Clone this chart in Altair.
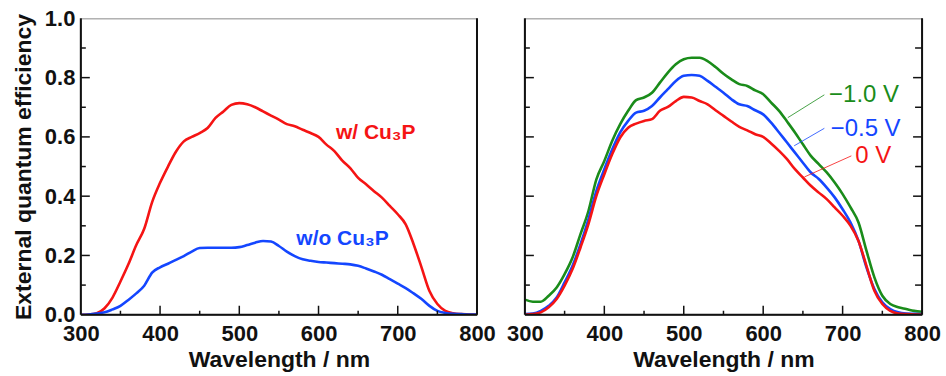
import altair as alt
import pandas as pd

# ---------------- data ----------------
wl = list(range(300, 801, 10))

left_with = [0.0, 0.001, 0.005, 0.022, 0.058, 0.112, 0.17, 0.235, 0.29, 0.38,
             0.445, 0.50, 0.55, 0.585, 0.60, 0.613, 0.63, 0.664, 0.686, 0.708,
             0.714, 0.71, 0.70, 0.686, 0.672, 0.658, 0.643, 0.636, 0.624, 0.613,
             0.60, 0.574, 0.552, 0.52, 0.495, 0.462, 0.44, 0.417, 0.395, 0.367,
             0.339, 0.305, 0.238, 0.16, 0.08, 0.036, 0.013, 0.005, 0.002, 0.001, 0.0]
left_without = [0.0, 0.001, 0.004, 0.008, 0.018, 0.03, 0.05, 0.072, 0.098, 0.142,
                0.16, 0.172, 0.185, 0.198, 0.213, 0.225, 0.226, 0.226, 0.226, 0.226,
                0.228, 0.235, 0.243, 0.249, 0.247, 0.232, 0.213, 0.198, 0.187, 0.182,
                0.178, 0.176, 0.174, 0.172, 0.17, 0.165, 0.156, 0.146, 0.135, 0.12,
                0.105, 0.09, 0.072, 0.053, 0.03, 0.013, 0.006, 0.003, 0.002, 0.001, 0.001]

right_10 = [0.051, 0.044, 0.044, 0.064, 0.092, 0.137, 0.193, 0.272, 0.35, 0.457,
            0.519, 0.587, 0.643, 0.688, 0.724, 0.733, 0.749, 0.783, 0.817, 0.845,
            0.862, 0.867, 0.867, 0.856, 0.836, 0.813, 0.794, 0.778, 0.772, 0.757,
            0.744, 0.716, 0.688, 0.652, 0.615, 0.575, 0.536, 0.508, 0.48, 0.446,
            0.407, 0.362, 0.311, 0.216, 0.126, 0.064, 0.036, 0.025, 0.019, 0.013, 0.01]
right_05 = [0.002, 0.004, 0.013, 0.03, 0.058, 0.109, 0.165, 0.238, 0.322, 0.418,
            0.491, 0.558, 0.615, 0.654, 0.682, 0.688, 0.704, 0.733, 0.761, 0.789,
            0.806, 0.809, 0.806, 0.789, 0.769, 0.749, 0.727, 0.71, 0.704, 0.69,
            0.676, 0.648, 0.615, 0.581, 0.547, 0.513, 0.48, 0.458, 0.429, 0.396,
            0.356, 0.311, 0.249, 0.16, 0.087, 0.042, 0.019, 0.008, 0.004, 0.003, 0.002]
right_00 = [0.0, 0.002, 0.008, 0.025, 0.053, 0.098, 0.154, 0.227, 0.306, 0.401,
            0.474, 0.542, 0.598, 0.631, 0.645, 0.654, 0.66, 0.688, 0.701, 0.721,
            0.735, 0.733, 0.721, 0.71, 0.69, 0.671, 0.652, 0.634, 0.622, 0.609,
            0.60, 0.578, 0.553, 0.525, 0.491, 0.463, 0.435, 0.412, 0.39, 0.362,
            0.334, 0.30, 0.249, 0.165, 0.081, 0.036, 0.013, 0.004, 0.002, 0.001, 0.0]

x_major = [300, 400, 500, 600, 700, 800]
x_minor = [350, 450, 550, 650, 750]
y_major = [0.2, 0.4, 0.6, 0.8]
y_minor = [0.1, 0.3, 0.5, 0.7, 0.9]
y_labels = [0.0, 0.2, 0.4, 0.6, 0.8, 1.0]

left_names = ["w/ Cu₃P", "w/o Cu₃P"]
left_label_x = [622, 572]
left_label_y = [0.613, 0.254]

right_names = ["−1.0 V", "−0.5 V", "0 V"]
right_label_x = [683, 685, 716]
right_label_y = [0.742, 0.628, 0.536]
leader_x1 = [677, 677, 711]
leader_y1 = [0.742, 0.629, 0.536]
leader_x2 = [631, 639, 652]
leader_y2 = [0.665, 0.570, 0.465]

# ---------------- styles ----------------
RED, BLUE, GREEN = "#f51414", "#1446ff", "#1a8c1a"
RED_T, BLUE_T, GREEN_T = "#d40d0d", "#1040c8", "#127a3a"
DARK = "#111111"
FONT = "Liberation Sans"
W_L, W_R, H = 397, 398, 297

xs = alt.Scale(domain=[300, 800], nice=False, zero=False, padding=0)
ys = alt.Scale(domain=[0, 1], nice=False, zero=True, padding=0)


def curves(df, colors, order):
    return alt.Chart(df).mark_line(strokeWidth=2.6, interpolate="monotone", clip=True).encode(
        x=alt.X("wl:Q", scale=xs,
                axis=alt.Axis(values=x_major, title="Wavelength / nm", ticks=False, domain=False,
                              grid=False, labelPadding=9, titlePadding=4, format="d",
                              labelFlush=False, labelOverlap=False)),
        y=alt.Y("v:Q", scale=ys),
        color=alt.Color("s:N", scale=alt.Scale(domain=order, range=colors), legend=None),
        detail="s:N",
    )


def tick_layers(width, both_sides):
    xmaj = pd.DataFrame({"t": x_major[1:-1]})
    xmin = pd.DataFrame({"t": x_minor})
    ymaj = pd.DataFrame({"t": y_major})
    ymin = pd.DataFrame({"t": y_minor})
    layers = [
        alt.Chart(xmaj).mark_rule(color=DARK, strokeWidth=1.5).encode(
            x=alt.X("t:Q", scale=xs), y=alt.value(H), y2=alt.value(H - 9)),
        alt.Chart(xmin).mark_rule(color=DARK, strokeWidth=1.5).encode(
            x=alt.X("t:Q", scale=xs), y=alt.value(H), y2=alt.value(H - 4)),
        alt.Chart(ymaj).mark_rule(color=DARK, strokeWidth=1.5).encode(
            y=alt.Y("t:Q", scale=ys), x=alt.value(0), x2=alt.value(9)),
        alt.Chart(ymin).mark_rule(color=DARK, strokeWidth=1.5).encode(
            y=alt.Y("t:Q", scale=ys), x=alt.value(0), x2=alt.value(5)),
    ]
    if both_sides:
        layers += [
            alt.Chart(ymaj).mark_rule(color=DARK, strokeWidth=1.5).encode(
                y=alt.Y("t:Q", scale=ys), x=alt.value(width), x2=alt.value(width - 9)),
            alt.Chart(ymin).mark_rule(color=DARK, strokeWidth=1.5).encode(
                y=alt.Y("t:Q", scale=ys), x=alt.value(width), x2=alt.value(width - 7)),
        ]
    one = pd.DataFrame({"k": [0]})
    layers += [
        alt.Chart(one).mark_rule(color=DARK, strokeWidth=2).encode(
            x=alt.value(0), x2=alt.value(0), y=alt.value(0), y2=alt.value(H)),
        alt.Chart(one).mark_rule(color=DARK, strokeWidth=2).encode(
            x=alt.value(width), x2=alt.value(width), y=alt.value(0), y2=alt.value(H)),
        alt.Chart(one).mark_rule(color=DARK, strokeWidth=2).encode(
            x=alt.value(0), x2=alt.value(width), y=alt.value(H), y2=alt.value(H)),
    ]
    return layers


# ---------------- left panel ----------------
dl = pd.concat([
    pd.DataFrame({"wl": wl, "v": left_with, "s": left_names[0]}),
    pd.DataFrame({"wl": wl, "v": left_without, "s": left_names[1]}),
])
left_curves = curves(dl, [RED, BLUE], left_names).encode(
    y=alt.Y("v:Q", scale=ys,
            axis=alt.Axis(values=y_labels, format=".1f", title="External quantum efficiency",
                          ticks=False, domain=False, grid=False, labelPadding=6, titlePadding=9,
                          labelFlush=False, labelOverlap=False))
)
lab_l = pd.DataFrame({"x": left_label_x, "y": left_label_y, "t": left_names})
left_text = alt.Chart(lab_l).mark_text(align="left", baseline="middle", font=FONT,
                                       fontSize=21, fontWeight="bold").encode(
    x=alt.X("x:Q", scale=xs), y=alt.Y("y:Q", scale=ys), text="t:N",
    color=alt.Color("t:N", scale=alt.Scale(domain=left_names, range=[RED_T, BLUE_T]), legend=None),
)
left = alt.layer(left_curves, left_text, *tick_layers(W_L, False)).properties(width=W_L, height=H)

# ---------------- right panel ----------------
volt = ["1.0", "0.5", "0"]
dr = pd.concat([
    pd.DataFrame({"wl": wl, "v": right_10, "s": volt[0]}),
    pd.DataFrame({"wl": wl, "v": right_05, "s": volt[1]}),
    pd.DataFrame({"wl": wl, "v": right_00, "s": volt[2]}),
])
right_curves = curves(dr, [GREEN, BLUE, RED], volt).encode(
    y=alt.Y("v:Q", scale=ys, axis=None)
)
leaders = pd.DataFrame({"x1": leader_x1, "y1": leader_y1, "x2": leader_x2, "y2": leader_y2, "s": volt})
right_lead = alt.Chart(leaders).mark_rule(strokeWidth=1, opacity=0.8).encode(
    x=alt.X("x1:Q", scale=xs), y=alt.Y("y1:Q", scale=ys), x2="x2:Q", y2="y2:Q",
    color=alt.Color("s:N", scale=alt.Scale(domain=volt, range=[GREEN, BLUE, RED]), legend=None),
)
lab_r = pd.DataFrame({"x": right_label_x, "y": right_label_y, "t": right_names})
right_text = alt.Chart(lab_r).mark_text(align="left", baseline="middle", font=FONT,
                                        fontSize=24).encode(
    x=alt.X("x:Q", scale=xs), y=alt.Y("y:Q", scale=ys), text="t:N",
    color=alt.Color("t:N", scale=alt.Scale(domain=right_names, range=[GREEN_T, BLUE_T, RED_T]),
                    legend=None),
)
right = alt.layer(right_curves, right_lead, right_text, *tick_layers(W_R, True)).properties(
    width=W_R, height=H)

chart = alt.hconcat(left, right, spacing=48, bounds="flush").resolve_scale(
    color="independent"
).properties(
    padding={"left": 11, "top": 6, "right": 5, "bottom": 1}
).configure_view(
    stroke="#8a8a8a", strokeWidth=1
).configure_axis(
    labelFont=FONT, titleFont=FONT, labelFontSize=22, titleFontSize=23,
    labelFontWeight="bold", titleFontWeight="bold", labelColor="#111111", titleColor="#111111",
)

chart.save("out.html", embed_options={"renderer": "svg", "actions": False})
